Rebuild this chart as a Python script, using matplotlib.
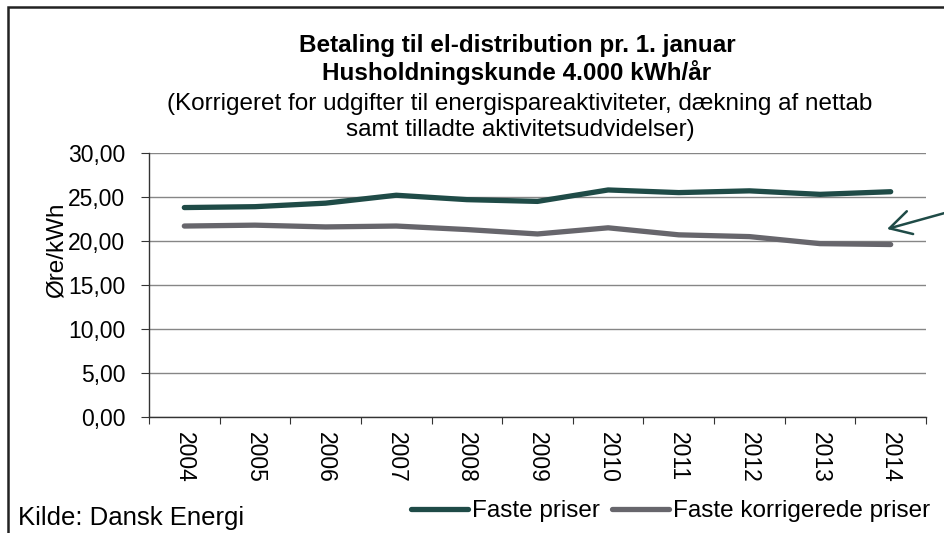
import matplotlib.pyplot as plt
from matplotlib.patches import Rectangle

plt.rcParams['font.family'] = ['Liberation Sans', 'DejaVu Sans']

# Data
years = ['2004', '2005', '2006', '2007', '2008', '2009', '2010', '2011', '2012', '2013', '2014']
faste = [23.8, 23.9, 24.3, 25.2, 24.7, 24.5, 25.8, 25.5, 25.7, 25.3, 25.6]
korrigerede = [21.7, 21.8, 21.6, 21.7, 21.3, 20.8, 21.5, 20.7, 20.5, 19.7, 19.6]
yticks = [0, 5, 10, 15, 20, 25, 30]

green = '#1f4b47'
grey = '#67666c'

fig = plt.figure(figsize=(9.44, 5.33), dpi=100)
W, H = 944, 533

def fx(px):
    return px / W

def fy(py):
    return 1 - py / H

# outer frame
fig.patches.append(Rectangle((fx(8), -0.1), 1.1, fy(7) + 0.1, transform=fig.transFigure,
                             fill=False, edgecolor='#222222', linewidth=1.8))

ax = fig.add_axes([fx(149), fy(417), (926 - 149) / W, (417 - 153) / H])
x = list(range(len(years)))
ax.plot(x, faste, color=green, lw=3.8, solid_capstyle='round', label='Faste priser', zorder=3)
ax.plot(x, korrigerede, color=grey, lw=3.8, solid_capstyle='round', label='Faste korrigerede priser', zorder=3)

ax.set_xlim(-0.5, len(years) - 0.5)
ax.set_ylim(0, 30)
ax.set_yticks(yticks)
ax.set_yticklabels([f'{v:.2f}'.replace('.', ',') for v in yticks], fontsize=16.5)
ax.yaxis.grid(True, color='#868686', lw=1.0)
ax.set_axisbelow(True)

ax.set_xticks([i - 0.5 for i in range(len(years) + 1)])
ax.set_xticklabels([])
ax.set_xticks(x, minor=True)
ax.set_xticklabels(years, minor=True, rotation=-90, fontsize=16.5)
ax.tick_params(axis='x', which='minor', length=0, pad=11)
ax.tick_params(axis='x', which='major', length=5, direction='out', color='#333333')
ax.tick_params(axis='y', length=6, direction='out', color='#333333', pad=11)

for s in ['top', 'right']:
    ax.spines[s].set_visible(False)
for s in ['left', 'bottom']:
    ax.spines[s].set_color('#333333')
    ax.spines[s].set_linewidth(1.0)

fig.text(fx(57), fy(250), 'Øre/kWh', rotation=90, ha='center', va='center', fontsize=17.5)

# titles
fig.text(fx(517), fy(52), 'Betaling til el-distribution pr. 1. januar', ha='center', va='baseline',
         fontsize=17.5, fontweight='bold')
fig.text(fx(517), fy(80), 'Husholdningskunde 4.000 kWh/år', ha='center', va='baseline',
         fontsize=17.5, fontweight='bold')
fig.text(fx(520), fy(110), '(Korrigeret for udgifter til energispareaktiviteter, dækning af nettab',
         ha='center', va='baseline', fontsize=17.5)
fig.text(fx(520), fy(136), 'samt tilladte aktivitetsudvidelser)', ha='center', va='baseline', fontsize=17.5)

fig.text(fx(18), fy(525), 'Kilde: Dansk Energi', ha='left', va='baseline', fontsize=18.5)

# arrow
ax.annotate('', xy=(fx(887), fy(229)), xytext=(fx(952), fy(211)),
            xycoords='figure fraction', textcoords='figure fraction',
            arrowprops=dict(arrowstyle='->,head_length=0.45,head_width=0.25', color=green,
                            lw=1.8, mutation_scale=34, shrinkA=0, shrinkB=0))

fig.legend(loc='center left', bbox_to_anchor=(fx(411), fy(511)), ncol=2, frameon=False,
           fontsize=17.5, handlelength=2.36, handletextpad=0.15, columnspacing=0.5,
           borderaxespad=0, borderpad=0)

fig.savefig('out.png', dpi=100)
